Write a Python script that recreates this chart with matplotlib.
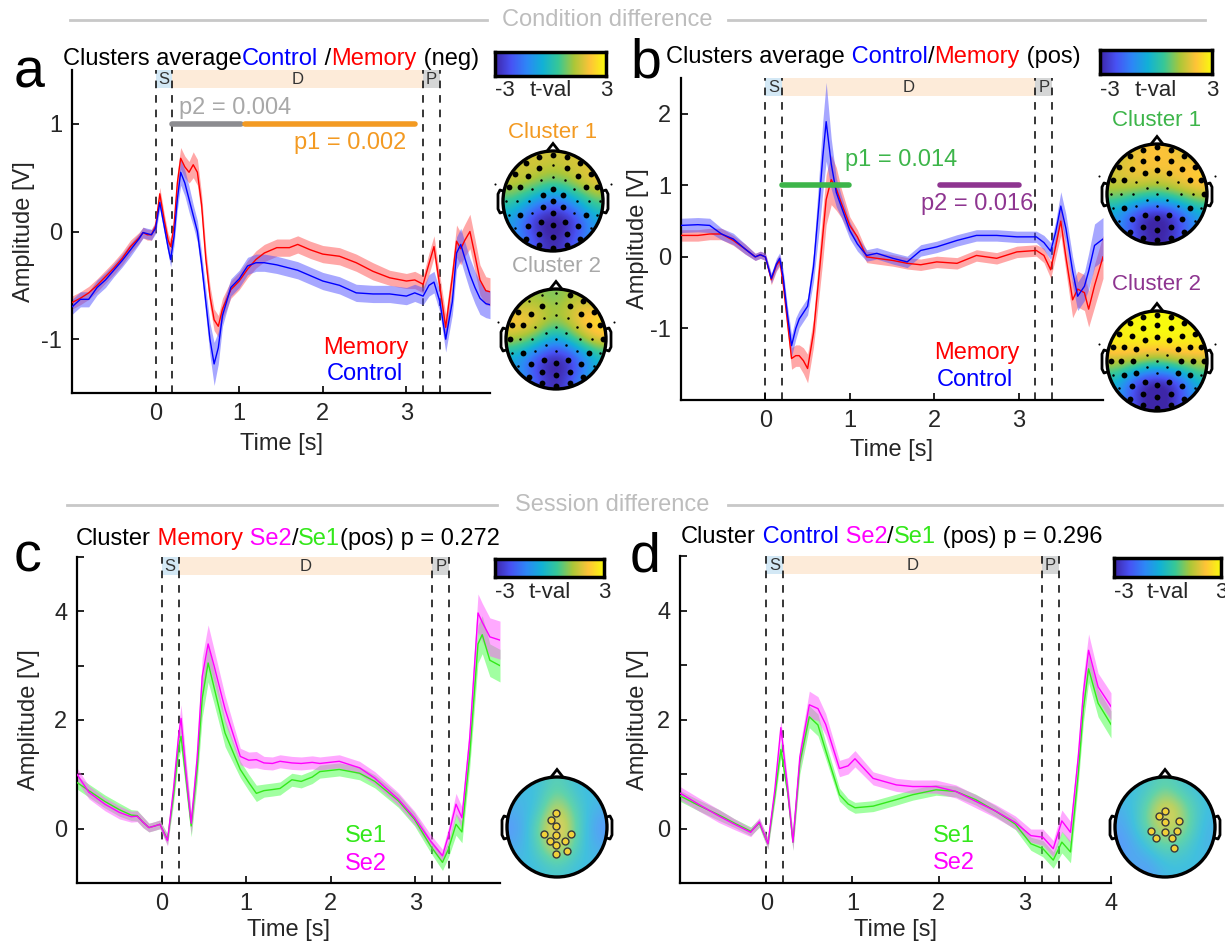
import numpy as np
import matplotlib
matplotlib.use("Agg")
import matplotlib.pyplot as plt
from matplotlib.colors import LinearSegmentedColormap
from matplotlib.patches import Circle, Rectangle, Polygon
import matplotlib.transforms as mtransforms

plt.rcParams['font.family'] = ['Liberation Sans', 'DejaVu Sans']

W, H = 1225, 943

# ---------------- data ----------------
# panel a : clusters average, Control / Memory (neg)
time_a = [-1.0, -0.9, -0.8, -0.7, -0.6, -0.5, -0.4, -0.3, -0.2, -0.15, -0.1, -0.05, 0.0, 0.05,
          0.1, 0.15, 0.18, 0.22, 0.26, 0.3, 0.35, 0.4, 0.45, 0.5, 0.55, 0.6, 0.65, 0.7, 0.75,
          0.8, 0.9, 1.0, 1.1, 1.2, 1.3, 1.45, 1.6, 1.7, 1.85, 2.0, 2.2, 2.4, 2.6, 2.8, 3.0,
          3.1, 3.2, 3.27, 3.33, 3.4, 3.47, 3.55, 3.6, 3.65, 3.7, 3.76, 3.82, 3.88, 3.95, 4.0]
memory_a = [-0.66, -0.62, -0.57, -0.5, -0.42, -0.34, -0.25, -0.14, -0.06, -0.01, -0.03, -0.03, 0.05, 0.35,
            0.12, -0.08, -0.14, 0.05, 0.45, 0.68, 0.6, 0.55, 0.62, 0.55, 0.25, -0.25, -0.6, -0.82, -0.88,
            -0.72, -0.54, -0.46, -0.35, -0.26, -0.2, -0.15, -0.15, -0.12, -0.17, -0.21, -0.23, -0.29, -0.37, -0.43, -0.46,
            -0.45, -0.49, -0.3, -0.14, -0.51, -0.89, -0.42, -0.09, -0.16, -0.08, 0.0, -0.22, -0.45, -0.55, -0.56]
memory_a_sem = [0.06, 0.06, 0.06, 0.06, 0.06, 0.06, 0.06, 0.06, 0.05, 0.05, 0.05, 0.05, 0.05, 0.06,
                0.06, 0.06, 0.07, 0.08, 0.1, 0.1, 0.1, 0.1, 0.12, 0.12, 0.1, 0.1, 0.1, 0.1, 0.1,
                0.1, 0.08, 0.08, 0.08, 0.08, 0.08, 0.08, 0.08, 0.08, 0.08, 0.08, 0.08, 0.08, 0.08, 0.07, 0.07,
                0.08, 0.08, 0.1, 0.1, 0.1, 0.12, 0.12, 0.15, 0.15, 0.15, 0.16, 0.15, 0.14, 0.13, 0.13]
control_a = [-0.7, -0.63, -0.63, -0.52, -0.45, -0.36, -0.27, -0.17, -0.07, -0.01, -0.02, -0.03, 0.03, 0.27,
             0.06, -0.15, -0.26, -0.05, 0.3, 0.55, 0.45, 0.3, 0.15, 0.0, -0.3, -0.65, -1.0, -1.23, -1.08,
             -0.78, -0.52, -0.44, -0.32, -0.29, -0.29, -0.31, -0.34, -0.36, -0.41, -0.46, -0.5, -0.57, -0.58, -0.58, -0.6,
             -0.57, -0.6, -0.5, -0.47, -0.65, -1.0, -0.65, -0.2, -0.12, -0.25, -0.4, -0.52, -0.62, -0.67, -0.68]
control_a_sem = [0.07, 0.07, 0.07, 0.07, 0.07, 0.06, 0.06, 0.06, 0.05, 0.05, 0.05, 0.05, 0.05, 0.06,
                 0.06, 0.06, 0.07, 0.08, 0.1, 0.12, 0.12, 0.12, 0.1, 0.1, 0.1, 0.12, 0.15, 0.2, 0.15,
                 0.1, 0.08, 0.08, 0.08, 0.08, 0.08, 0.08, 0.08, 0.08, 0.08, 0.08, 0.08, 0.08, 0.08, 0.08, 0.08,
                 0.08, 0.08, 0.1, 0.1, 0.1, 0.12, 0.12, 0.15, 0.15, 0.15, 0.15, 0.15, 0.15, 0.13, 0.13]

# panel b : clusters average, Control / Memory (pos)
time_b = [-1.0, -0.8, -0.66, -0.52, -0.38, -0.24, -0.12, -0.06, 0.0, 0.07, 0.13, 0.17, 0.21, 0.26,
          0.31, 0.36, 0.4, 0.45, 0.5, 0.57, 0.64, 0.68, 0.72, 0.78, 0.84, 0.9, 1.0, 1.09, 1.2, 1.32,
          1.51, 1.68, 1.84, 2.03, 2.27, 2.5, 2.74, 2.98, 3.21, 3.3, 3.38, 3.44, 3.5, 3.56, 3.64, 3.7,
          3.78, 3.83, 3.9, 4.0]
control_b = [0.44, 0.45, 0.44, 0.32, 0.25, 0.11, 0.0, 0.03, 0.0, -0.3, -0.1, -0.02, -0.28, -0.8,
             -1.24, -1.0, -0.87, -0.78, -0.69, -0.14, 0.81, 1.4, 1.89, 1.3, 0.9, 0.7, 0.37, 0.18, 0.02, 0.05,
             -0.02, -0.07, 0.09, 0.14, 0.23, 0.3, 0.3, 0.28, 0.28, 0.2, 0.08, 0.35, 0.71, 0.4, -0.2, -0.55,
             -0.41, -0.2, 0.16, 0.25]
control_b_sem = [0.1, 0.1, 0.1, 0.08, 0.08, 0.07, 0.05, 0.05, 0.05, 0.07, 0.08, 0.08, 0.1, 0.12,
                 0.15, 0.15, 0.12, 0.12, 0.12, 0.2, 0.4, 0.5, 0.55, 0.35, 0.2, 0.15, 0.12, 0.1, 0.08, 0.08,
                 0.08, 0.08, 0.08, 0.08, 0.08, 0.08, 0.08, 0.08, 0.08, 0.1, 0.12, 0.15, 0.2, 0.2, 0.2, 0.2,
                 0.2, 0.25, 0.3, 0.3]
memory_b = [0.3, 0.3, 0.32, 0.32, 0.23, 0.11, 0.0, 0.03, 0.0, -0.32, -0.12, -0.05, -0.37, -0.9,
            -1.42, -1.38, -1.38, -1.45, -1.56, -1.06, -0.2, 0.3, 0.8, 1.08, 0.95, 0.75, 0.44, 0.28, 0.0, -0.02,
            -0.05, -0.09, -0.11, -0.07, -0.09, 0.02, -0.02, 0.07, 0.09, 0.02, -0.18, 0.15, 0.5, 0.0, -0.6, -0.45,
            -0.5, -0.73, -0.4, 0.0]
memory_b_sem = [0.08, 0.08, 0.08, 0.08, 0.07, 0.07, 0.05, 0.05, 0.05, 0.07, 0.08, 0.08, 0.1, 0.12,
                0.15, 0.15, 0.15, 0.18, 0.2, 0.2, 0.3, 0.35, 0.35, 0.35, 0.3, 0.2, 0.12, 0.1, 0.08, 0.08,
                0.08, 0.08, 0.08, 0.08, 0.08, 0.08, 0.08, 0.08, 0.08, 0.1, 0.12, 0.15, 0.2, 0.2, 0.25, 0.25,
                0.25, 0.25, 0.3, 0.3]

# panel c : cluster Memory, Se2 / Se1 (pos)
time_c = [-1.0, -0.86, -0.67, -0.5, -0.36, -0.29, -0.22, -0.15, -0.08, -0.02, 0.07, 0.14, 0.2, 0.23,
          0.29, 0.35, 0.42, 0.48, 0.55, 0.62, 0.75, 0.93, 1.03, 1.12, 1.21, 1.31, 1.4, 1.54, 1.65, 1.78,
          1.87, 2.1, 2.34, 2.52, 2.8, 2.99, 3.18, 3.32, 3.39, 3.48, 3.55, 3.64, 3.74, 3.79, 3.88, 4.0]
se2_c = [1.0, 0.67, 0.45, 0.3, 0.22, 0.23, 0.12, 0.02, 0.05, 0.08, -0.22, 0.72, 1.7, 2.03,
         1.0, 0.1, 1.3, 2.8, 3.4, 3.0, 2.2, 1.33, 1.26, 1.27, 1.21, 1.2, 1.24, 1.21, 1.2, 1.22,
         1.2, 1.24, 1.12, 0.93, 0.54, 0.2, -0.23, -0.5, -0.13, 0.45, 0.2, 1.63, 3.97, 3.8, 3.53, 3.47]
se2_c_sem = [0.12, 0.12, 0.12, 0.12, 0.1, 0.1, 0.1, 0.08, 0.08, 0.08, 0.1, 0.15, 0.2, 0.25,
             0.25, 0.2, 0.25, 0.35, 0.35, 0.3, 0.25, 0.15, 0.15, 0.15, 0.12, 0.12, 0.12, 0.12, 0.12, 0.12,
             0.12, 0.12, 0.12, 0.12, 0.12, 0.12, 0.12, 0.12, 0.15, 0.2, 0.2, 0.25, 0.35, 0.35, 0.35, 0.35]
se1_c = [0.85, 0.7, 0.5, 0.35, 0.25, 0.24, 0.12, 0.02, 0.05, 0.08, -0.2, 0.6, 1.5, 1.7,
         0.9, 0.05, 1.1, 2.4, 3.05, 2.6, 1.76, 1.09, 0.85, 0.65, 0.7, 0.72, 0.74, 0.9, 0.87, 0.95,
         1.05, 1.09, 1.02, 0.87, 0.51, 0.17, -0.32, -0.62, -0.38, 0.08, -0.06, 1.33, 3.4, 3.57, 3.1, 3.0]
se1_c_sem = [0.12, 0.12, 0.12, 0.12, 0.1, 0.1, 0.1, 0.08, 0.08, 0.08, 0.1, 0.15, 0.2, 0.25,
             0.25, 0.2, 0.25, 0.35, 0.35, 0.3, 0.25, 0.15, 0.15, 0.15, 0.12, 0.12, 0.12, 0.12, 0.12, 0.12,
             0.12, 0.12, 0.12, 0.12, 0.12, 0.12, 0.12, 0.15, 0.15, 0.2, 0.2, 0.25, 0.35, 0.35, 0.3, 0.3]

# panel d : cluster Control, Se2 / Se1 (pos)
time_d = [-1.0, -0.78, -0.55, -0.37, -0.18, -0.08, 0.02, 0.1, 0.17, 0.25, 0.31, 0.39, 0.5, 0.6,
          0.69, 0.85, 0.95, 1.03, 1.24, 1.51, 1.7, 1.97, 2.2, 2.43, 2.66, 2.89, 3.07, 3.21, 3.33, 3.43,
          3.53, 3.62, 3.68, 3.74, 3.85, 4.0]
se2_d = [0.65, 0.44, 0.23, 0.08, -0.07, 0.12, -0.28, 0.71, 1.85, 0.71, -0.25, 1.31, 2.27, 2.2,
         1.91, 1.1, 1.15, 1.28, 0.92, 0.8, 0.77, 0.77, 0.68, 0.5, 0.32, 0.11, -0.13, -0.16, -0.37, 0.14,
         -0.07, 1.31, 2.5, 3.27, 2.6, 2.24]
se2_d_sem = [0.12, 0.12, 0.12, 0.1, 0.08, 0.08, 0.1, 0.12, 0.15, 0.15, 0.15, 0.2, 0.25, 0.22,
             0.2, 0.15, 0.15, 0.15, 0.12, 0.12, 0.12, 0.12, 0.12, 0.12, 0.12, 0.12, 0.12, 0.15, 0.15, 0.2,
             0.2, 0.2, 0.3, 0.3, 0.25, 0.25]
se1_d = [0.6, 0.42, 0.25, 0.1, -0.05, 0.1, -0.28, 0.6, 1.45, 0.65, -0.25, 1.2, 2.05, 1.9,
         1.43, 0.62, 0.45, 0.38, 0.41, 0.53, 0.62, 0.71, 0.68, 0.53, 0.32, 0.08, -0.28, -0.37, -0.58, -0.25,
         -0.43, 1.01, 2.2, 2.93, 2.3, 1.91]
se1_d_sem = [0.1, 0.1, 0.1, 0.08, 0.08, 0.08, 0.1, 0.12, 0.15, 0.15, 0.15, 0.2, 0.2, 0.2,
             0.15, 0.12, 0.1, 0.1, 0.1, 0.1, 0.1, 0.1, 0.1, 0.1, 0.1, 0.1, 0.12, 0.15, 0.15, 0.2,
             0.2, 0.2, 0.25, 0.25, 0.25, 0.25]

# task epochs
epoch_names = ['S', 'D', 'P']
epoch_start = [0.0, 0.2, 3.2]
epoch_end = [0.2, 3.2, 3.4]
epoch_colors = ['#d3e8f5', '#fdebd9', '#d5d6d6']

# topographies (t-values, rows front->back, cols left->right)
topo_a1 = [[1.4, 1.8, 1.6, 1.8, 1.6],
           [1.8, 1.5, 0.8, 1.5, 2.2],
           [0.4, -0.8, -2.0, -0.8, 0.8],
           [-0.8, -3.0, -3.5, -3.0, -0.8],
           [-0.8, -2.0, -3.2, -2.0, -0.8]]
topo_a2 = [[1.0, 1.2, 0.8, 1.5, 1.2],
           [2.4, 2.2, 1.2, 2.2, 2.8],
           [1.5, 0.8, -1.0, 0.8, 2.2],
           [-0.8, -2.6, -3.5, -2.6, -0.5],
           [-0.5, -2.0, -3.2, -1.6, -0.2]]
topo_b1 = [[1.5, 2.0, 2.2, 2.0, 1.5],
           [1.8, 2.2, 2.0, 2.2, 2.6],
           [1.2, 1.0, 0.6, 1.2, 1.8],
           [-0.8, -2.8, -3.5, -2.8, -0.8],
           [-0.8, -2.5, -3.2, -2.5, -0.8]]
topo_b2 = [[2.6, 3.0, 3.0, 3.0, 2.6],
           [3.0, 3.0, 3.0, 3.0, 3.0],
           [1.6, 1.6, 1.0, 1.6, 1.6],
           [-0.2, -2.8, -3.5, -2.8, -0.2],
           [-0.8, -2.6, -3.4, -2.6, -0.8]]
topo_c = [[-0.5, -0.5, 0.5, -0.5, -0.5],
          [-0.8, -0.5, 1.8, 0.0, -0.8],
          [-1.5, 0.5, 2.5, 0.5, -1.5],
          [-1.0, 0.0, 2.2, 0.0, -1.0],
          [-0.5, -0.5, 0.0, -0.5, -0.5]]
topo_d = [[-0.5, -0.3, 0.5, -0.3, -0.5],
          [-0.8, 0.3, 2.2, 0.8, -0.5],
          [-1.2, 0.5, 1.8, 1.0, -0.8],
          [-1.5, -0.5, 0.5, 0.0, -0.8],
          [-0.8, -1.5, -0.5, -0.5, -0.5]]
cluster_c_x = [-0.02, -0.12, -0.02, -0.27, -0.02, 0.27, -0.15, 0.15, -0.02, -0.02, 0.19]
cluster_c_y = [0.28, 0.15, 0.03, -0.13, -0.15, -0.13, -0.27, -0.27, -0.35, -0.53, -0.48]
cluster_d_x = [-0.01, -0.12, -0.01, 0.28, -0.28, -0.01, 0.24, -0.18, 0.13, 0.18]
cluster_d_y = [0.33, 0.22, 0.1, 0.12, -0.07, -0.1, -0.07, -0.21, -0.21, -0.41]

# electrode rings of the montage (radius, count)
ring_radius = [0.0, 0.24, 0.48, 0.72, 0.93]
ring_count = [1, 6, 12, 16, 20]

# ---------------- style ----------------
RED, BLUE = '#ff0000', '#0000ff'
MAG, GRN = '#ff00ff', '#33e81a'
ORANGE, GREY_TXT, GREY_BAR = '#f39a22', '#a8a8a8', '#8c8c90'
GREEN_CL, PURPLE = '#3db54a', '#8e3590'
TXT = '#262626'
FS = 17

parula = LinearSegmentedColormap.from_list(
    'parula', [(0.2422, 0.1504, 0.6603), (0.2810, 0.3228, 0.9579), (0.1786, 0.5289, 0.9682),
               (0.0689, 0.6948, 0.8394), (0.2161, 0.7843, 0.5923), (0.6720, 0.7793, 0.2227),
               (0.9970, 0.7659, 0.2199), (0.9763, 0.9831, 0.0538)])

fig = plt.figure(figsize=(W / 100, H / 100), dpi=100)
bg = fig.add_axes([0, 0, 1, 1])
bg.set_xlim(0, W)
bg.set_ylim(H, 0)
bg.axis('off')


def rich_text(x, y, parts, size=FS):
    """several coloured pieces of text on one baseline (pixel coords)"""
    prev = None
    for s, c in parts:
        if prev is None:
            prev = bg.text(x, y, s, color=c, fontsize=size, ha='left', va='baseline')
        else:
            prev = bg.annotate(s, xy=(1, y), xycoords=(prev, 'data'), color=c,
                               fontsize=size, ha='left', va='baseline', annotation_clip=False)
    return prev


def erp_axes(box, t, series, ylim, yticks, yticklabels, xticks, ylab_x, xlab_y):
    l, top, r, b = box
    ax = fig.add_axes([l / W, 1 - b / H, (r - l) / W, (b - top) / H])
    ax.patch.set_visible(False)
    trans = mtransforms.blended_transform_factory(ax.transData, ax.transAxes)
    for name, s0, s1, col in zip(epoch_names, epoch_start, epoch_end, epoch_colors):
        ax.add_patch(Rectangle((s0, 0.945), s1 - s0, 0.055, transform=trans,
                               facecolor=col, edgecolor='none', zorder=0.5))
        ax.text((s0 + s1) / 2, 0.972, name, transform=trans, ha='center', va='center',
                fontsize=12, color='#333333', zorder=0.6)
    for xv in [0.0, 0.2, 3.2, 3.4]:
        ax.axvline(xv, color='k', lw=1.1, dashes=(5, 4.5), zorder=1)
    for mean, sem, lc, bc, ba in series:
        m = np.array(mean)
        e = np.array(sem)
        ax.fill_between(t, m - e, m + e, color=bc, alpha=ba, lw=0, zorder=2)
        ax.plot(t, m, color=lc, lw=1.0, zorder=3)
    ax.set_xlim(-1, 4)
    ax.set_ylim(*ylim)
    ax.set_xticks(xticks)
    ax.set_xticklabels([str(v) for v in xticks])
    ax.set_yticks(yticks)
    ax.set_yticklabels(yticklabels)
    for sp in ['top', 'right']:
        ax.spines[sp].set_visible(False)
    for sp in ['left', 'bottom']:
        ax.spines[sp].set_linewidth(1.6)
    ax.tick_params(direction='in', length=5, width=1.2, labelsize=FS, labelcolor=TXT, pad=7)
    ax.set_xlabel('Time [s]', fontsize=FS, color=TXT)
    ax.set_ylabel('Amplitude [V]', fontsize=FS, color=TXT)
    ax.xaxis.set_label_coords(0.5, xlab_y)
    ax.yaxis.set_label_coords(ylab_x, 0.5)
    return ax


def head_outline(ax):
    ax.add_patch(Circle((0, 0), 1.0, facecolor='none', edgecolor='k', lw=2.4, zorder=5))
    ax.add_patch(Polygon([[-0.13, 0.985], [0.0, 1.15], [0.13, 0.985]], closed=False,
                         facecolor='none', edgecolor='k', lw=2.0, zorder=5))
    for side in [-1, 1]:
        ax.plot([side * 0.995, side * 1.06, side * 1.1, side * 1.1, side * 1.06, side * 0.995],
                [0.2, 0.22, 0.14, -0.16, -0.24, -0.22], color='k', lw=2.0, zorder=5)


def topo(cx, cy, grid, alpha=1.0):
    half = 65
    ax = fig.add_axes([(cx - half) / W, 1 - (cy + half) / H, 2 * half / W, 2 * half / H])
    ax.patch.set_visible(False)
    im = ax.imshow(np.array(grid), cmap=parula, vmin=-3, vmax=3, extent=[-1, 1, -1, 1],
                   interpolation='bicubic', origin='upper', alpha=alpha, zorder=1)
    im.set_clip_path(Circle((0, 0), 1.0, transform=ax.transData))
    head_outline(ax)
    ax.set_xlim(-1.3, 1.3)
    ax.set_ylim(-1.22, 1.38)
    ax.set_aspect('equal')
    ax.axis('off')
    return ax


def electrodes(ax, grid):
    g = np.array(grid)
    for rr, n in zip(ring_radius, ring_count):
        for k in range(n):
            ang = np.pi / 2 + 2 * np.pi * k / n
            x, y = rr * np.cos(ang), rr * np.sin(ang)
            col = int(round((x + 1) / 2 * 4))
            row = int(round((1 - y) / 2 * 4))
            big = abs(g[row, col]) >= 1.5
            ax.plot(x, y, 'o', color='k', ms=4.2 if big else 1.8, mew=0, zorder=4)
    for side in [-1, 1]:
        ax.plot(side * 1.16, 0.35, 'o', color='k', ms=1.5, mew=0, zorder=4)


def colorbar_box(l, top, r, b, label_y):
    cax = fig.add_axes([l / W, 1 - b / H, (r - l) / W, (b - top) / H])
    cax.imshow(np.linspace(-3, 3, 256)[None, :], cmap=parula, aspect='auto',
               extent=[-3, 3, 0, 1])
    cax.set_xticks([])
    cax.set_yticks([])
    for sp in cax.spines.values():
        sp.set_linewidth(2.5)
    bg.text(l, label_y, '-3', fontsize=16, color=TXT, ha='left', va='center')
    bg.text((l + r) / 2, label_y, 't-val', fontsize=16, color=TXT, ha='center', va='center')
    bg.text(r, label_y, '3', fontsize=16, color=TXT, ha='center', va='center')


# ---------------- section headers ----------------
bg.plot([70, 487], [20, 20], color='#c8c8c8', lw=2)
bg.plot([728, 1205], [20, 20], color='#c8c8c8', lw=2)
bg.text(607, 20, 'Condition difference', fontsize=FS, color='#bdbdbd', ha='center', va='center')
bg.plot([67, 497], [505, 505], color='#c8c8c8', lw=2)
bg.plot([728, 1222], [505, 505], color='#c8c8c8', lw=2)
bg.text(612, 505, 'Session difference', fontsize=FS, color='#bdbdbd', ha='center', va='center')

# ---------------- panel a ----------------
ax_a = erp_axes((72, 70, 490, 393), time_a,
                [(memory_a, memory_a_sem, RED, '#ff5050', 0.5),
                 (control_a, control_a_sem, BLUE, '#5050ff', 0.5)],
                (-1.5, 1.5), [-1, 0, 1], ['-1', '0', '1'], [0, 1, 2, 3], -0.088, -0.125)
ax_a.plot([0.2, 1.02], [1, 1], color=GREY_BAR, lw=4, solid_capstyle='round', zorder=4)
ax_a.plot([1.07, 3.1], [1, 1], color=ORANGE, lw=4, solid_capstyle='round', zorder=4)
ax_a.text(0.28, 1.15, 'p2 = 0.004', color=GREY_TXT, fontsize=FS, ha='left', va='center')
ax_a.text(3.0, 0.82, 'p1 = 0.002', color=ORANGE, fontsize=FS, ha='right', va='center')
ax_a.text(2.0, -1.08, 'Memory', color=RED, fontsize=FS, ha='left', va='center')
ax_a.text(2.05, -1.32, 'Control', color=BLUE, fontsize=FS, ha='left', va='center')
rich_text(63, 65, [('Clusters average', 'k'), ('Control', BLUE), (' /', 'k'),
                   ('Memory', RED), (' (neg)', 'k')])
bg.text(14, 88, 'a', fontsize=40, color='k', ha='left', va='baseline')
colorbar_box(495, 52, 606, 76, 90)
bg.text(553, 132, 'Cluster 1', fontsize=16, color=ORANGE, ha='center', va='center')
bg.text(556, 267, 'Cluster 2', fontsize=16, color=GREY_TXT, ha='center', va='center')
electrodes(topo(553, 197, topo_a1), topo_a1)
electrodes(topo(556, 335, topo_a2), topo_a2)

# ---------------- panel b ----------------
ax_b = erp_axes((681, 78, 1103, 400), time_b,
                [(memory_b, memory_b_sem, RED, '#ff5050', 0.5),
                 (control_b, control_b_sem, BLUE, '#5050ff', 0.5)],
                (-2, 2.5), [-1, 0, 1, 2], ['-1', '0', '1', '2'], [0, 1, 2, 3], -0.076, -0.121)
ax_b.plot([0.2, 0.99], [1, 1], color=GREEN_CL, lw=4, solid_capstyle='round', zorder=4)
ax_b.plot([2.07, 3.0], [1, 1], color=PURPLE, lw=4, solid_capstyle='round', zorder=4)
ax_b.text(0.94, 1.36, 'p1 = 0.014', color=GREEN_CL, fontsize=FS, ha='left', va='center')
ax_b.text(3.17, 0.74, 'p2 = 0.016', color=PURPLE, fontsize=FS, ha='right', va='center')
ax_b.text(2.0, -1.34, 'Memory', color=RED, fontsize=FS, ha='left', va='center')
ax_b.text(2.03, -1.72, 'Control', color=BLUE, fontsize=FS, ha='left', va='center')
rich_text(666, 63, [('Clusters average', 'k'), (' Control', BLUE), ('/', 'k'),
                    ('Memory', RED), (' (pos)', 'k')])
bg.text(630, 78, 'b', fontsize=40, color='k', ha='left', va='baseline')
colorbar_box(1100, 50, 1212, 74, 91)
bg.text(1157, 120, 'Cluster 1', fontsize=16, color=GREEN_CL, ha='center', va='center')
bg.text(1157, 285, 'Cluster 2', fontsize=16, color=PURPLE, ha='center', va='center')
electrodes(topo(1157, 190, topo_b1), topo_b1)
electrodes(topo(1157, 357, topo_b2), topo_b2)

# ---------------- panel c ----------------
ax_c = erp_axes((77, 557, 500, 883), time_c,
                [(se1_c, se1_c_sem, GRN, '#55ff55', 0.55),
                 (se2_c, se2_c_sem, MAG, '#ff55ff', 0.5)],
                (-1, 5), [-1, 0, 1, 2, 3, 4, 5], ['', '0', '', '2', '', '4', ''],
                [0, 1, 2, 3], -0.087, -0.11)
ax_c.text(2.17, -0.13, 'Se1', color=GRN, fontsize=FS, ha='left', va='center')
ax_c.text(2.17, -0.65, 'Se2', color=MAG, fontsize=FS, ha='left', va='center')
rich_text(76, 545, [('Cluster', 'k'), (' Memory', RED), (' Se2', MAG), ('/', 'k'),
                    ('Se1', GRN), ('(pos) p = 0.272', 'k')])
bg.text(14, 572, 'c', fontsize=40, color='k', ha='left', va='baseline')
colorbar_box(495, 559, 604, 577, 592)
tc_ax = topo(557, 823, topo_c, alpha=0.8)
tc_ax.plot(cluster_c_x, cluster_c_y, 'o', ms=5, mfc='#f2d13a', mec='#3a3a3a', mew=1.0, zorder=6)

# ---------------- panel d ----------------
ax_d = erp_axes((680, 556, 1111, 883), time_d,
                [(se1_d, se1_d_sem, GRN, '#55ff55', 0.55),
                 (se2_d, se2_d_sem, MAG, '#ff55ff', 0.5)],
                (-1, 5), [-1, 0, 1, 2, 3, 4, 5], ['', '0', '', '2', '', '4', ''],
                [0, 1, 2, 3, 4], -0.072, -0.11)
ax_d.text(1.93, -0.13, 'Se1', color=GRN, fontsize=FS, ha='left', va='center')
ax_d.text(1.93, -0.64, 'Se2', color=MAG, fontsize=FS, ha='left', va='center')
rich_text(681, 543, [('Cluster', 'k'), (' Control', BLUE), (' Se2', MAG), ('/', 'k'),
                     ('Se1', GRN), (' (pos) p = 0.296', 'k')])
bg.text(630, 572, 'd', fontsize=40, color='k', ha='left', va='baseline')
colorbar_box(1114, 558, 1221, 577, 593)
td_ax = topo(1165, 823, topo_d, alpha=0.8)
td_ax.plot(cluster_d_x, cluster_d_y, 'o', ms=5, mfc='#f2d13a', mec='#3a3a3a', mew=1.0, zorder=6)

fig.savefig('out.png', dpi=100)
